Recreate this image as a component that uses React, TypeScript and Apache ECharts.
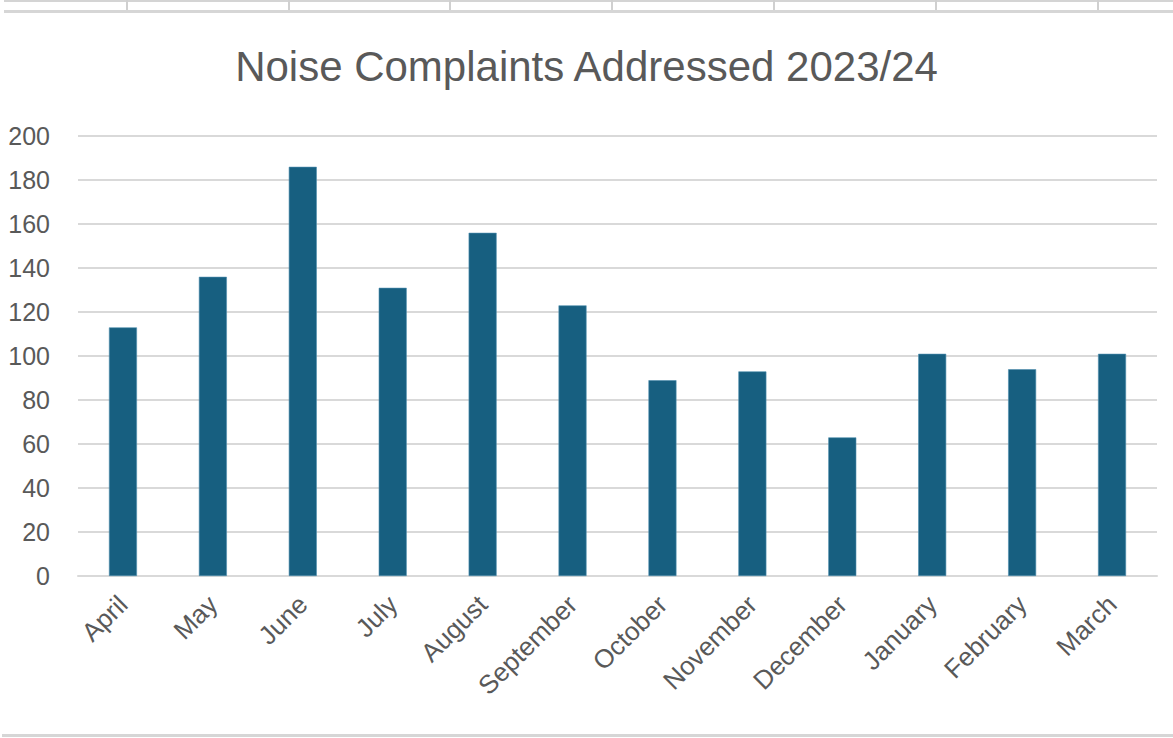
import React, { useEffect, useRef } from "react";
import * as echarts from "echarts";

const months = ["April", "May", "June", "July", "August", "September", "October", "November", "December", "January", "February", "March"];
const complaints = [113, 136, 186, 131, 156, 123, 89, 93, 63, 101, 94, 101];
const yTicks = { min: 0, max: 200, interval: 20 };
const titleText = "Noise Complaints Addressed 2023/24";
const sheetColumnLines = [127, 289, 450, 612, 774, 936, 1098];

export default function App() {
  const ref = useRef<HTMLDivElement>(null);
  useEffect(() => {
    document.body.style.margin = "0";
    const chart = echarts.init(ref.current!, null, { renderer: "svg" });
    const graphics: any[] = [
      { type: "rect", shape: { x: 0, y: 0, width: 1173, height: 13 }, style: { fill: "#ffffff" } },
      { type: "line", shape: { x1: 4, y1: 1, x2: 1173, y2: 1 }, style: { stroke: "#d4d4d4", lineWidth: 2 } },
      { type: "line", shape: { x1: 4, y1: 11.5, x2: 1173, y2: 11.5 }, style: { stroke: "#d6d6d6", lineWidth: 3 } },
      ...sheetColumnLines.map((x) => ({
        type: "line",
        shape: { x1: x, y1: 0, x2: x, y2: 10 },
        style: { stroke: "#d0d0d0", lineWidth: 2 },
      })),
      { type: "line", shape: { x1: 2, y1: 735.5, x2: 1173, y2: 735.5 }, style: { stroke: "#d6d6d6", lineWidth: 3 } },
    ];
    chart.setOption({
      animation: false,
      backgroundColor: "#ffffff",
      title: {
        text: titleText,
        left: "center",
        top: 40,
        textStyle: { fontFamily: "Liberation Sans", fontSize: 42, fontWeight: "normal", color: "#595959" },
      },
      grid: { left: 78, right: 16, top: 136, bottom: 162, containLabel: false },
      xAxis: {
        type: "category",
        data: months,
        axisLine: { show: true, lineStyle: { color: "#d9d9d9", width: 2 } },
        axisTick: { show: false },
        axisLabel: {
          rotate: 45,
          interval: 0,
          margin: 24,
          fontFamily: "Liberation Sans",
          fontSize: 26,
          color: "#595959",
        },
      },
      yAxis: {
        type: "value",
        min: yTicks.min,
        max: yTicks.max,
        interval: yTicks.interval,
        axisLine: { show: false },
        axisTick: { show: false },
        splitLine: { lineStyle: { color: "#d9d9d9", width: 2 } },
        axisLabel: { margin: 28, fontFamily: "Liberation Sans", fontSize: 25, color: "#595959" },
      },
      series: [
        {
          type: "bar",
          data: complaints,
          barWidth: 28,
          itemStyle: { color: "#175f80", borderColor: "#4f8fae", borderWidth: 0.6 },
        },
      ],
      graphic: graphics,
    });
    return () => chart.dispose();
  }, []);
  return <div ref={ref} style={{ position: "fixed", left: 0, top: 0, width: 1173, height: 738 }} />;
}
